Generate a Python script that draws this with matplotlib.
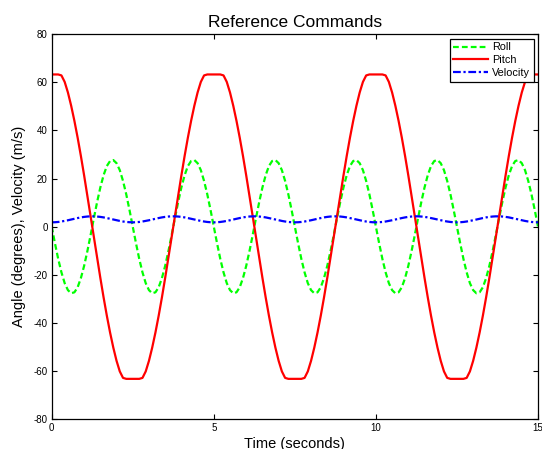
import numpy as np
import matplotlib
matplotlib.use("Agg")
import matplotlib.pyplot as plt

plt.rcParams['font.family'] = ['Liberation Sans', 'DejaVu Sans']
plt.rcParams['axes.unicode_minus'] = False

# Sample times (s), one sample every 0.1 s from 0 to 15
time_s = np.linspace(0.0, 15.0, 151)

# Roll command (degrees)
roll_deg = [
    0.0, -6.9, -13.4, -19.0, -23.5, -26.4, -27.7, -27.3, -25.2, -21.4, -16.3, -10.2, -3.5,
    3.5, 10.2, 16.3, 21.4, 25.2, 27.3, 27.7, 26.4, 23.5, 19.0, 13.4, 6.9,
    0.0, -6.9, -13.4, -19.0, -23.5, -26.4, -27.7, -27.3, -25.2, -21.4, -16.3, -10.2, -3.5,
    3.5, 10.2, 16.3, 21.4, 25.2, 27.3, 27.7, 26.4, 23.5, 19.0, 13.4, 6.9,
    0.0, -6.9, -13.4, -19.0, -23.5, -26.4, -27.7, -27.3, -25.2, -21.4, -16.3, -10.2, -3.5,
    3.5, 10.2, 16.3, 21.4, 25.2, 27.3, 27.7, 26.4, 23.5, 19.0, 13.4, 6.9,
    0.0, -6.9, -13.4, -19.0, -23.5, -26.4, -27.7, -27.3, -25.2, -21.4, -16.3, -10.2, -3.5,
    3.5, 10.2, 16.3, 21.4, 25.2, 27.3, 27.7, 26.4, 23.5, 19.0, 13.4, 6.9,
    0.0, -6.9, -13.4, -19.0, -23.5, -26.4, -27.7, -27.3, -25.2, -21.4, -16.3, -10.2, -3.5,
    3.5, 10.2, 16.3, 21.4, 25.2, 27.3, 27.7, 26.4, 23.5, 19.0, 13.4, 6.9,
    0.0, -6.9, -13.4, -19.0, -23.5, -26.4, -27.7, -27.3, -25.2, -21.4, -16.3, -10.2, -3.5,
    3.5, 10.2, 16.3, 21.4, 25.2, 27.3, 27.7, 26.4, 23.5, 19.0, 13.4, 6.9,
    0.0,
]

# Pitch command (degrees)
pitch_deg = [
    63.3, 63.3, 63.3, 62.9, 60.2, 55.8, 50.3, 44.0, 37.0, 29.4, 21.3, 12.9, 4.3,
    -4.3, -12.9, -21.3, -29.4, -37.0, -44.0, -50.3, -55.8, -60.2, -62.9, -63.3, -63.3,
    -63.3, -63.3, -63.3, -62.9, -60.2, -55.8, -50.3, -44.0, -37.0, -29.4, -21.3, -12.9, -4.3,
    4.3, 12.9, 21.3, 29.4, 37.0, 44.0, 50.3, 55.8, 60.2, 62.9, 63.3, 63.3,
    63.3, 63.3, 63.3, 62.9, 60.2, 55.8, 50.3, 44.0, 37.0, 29.4, 21.3, 12.9, 4.3,
    -4.3, -12.9, -21.3, -29.4, -37.0, -44.0, -50.3, -55.8, -60.2, -62.9, -63.3, -63.3,
    -63.3, -63.3, -63.3, -62.9, -60.2, -55.8, -50.3, -44.0, -37.0, -29.4, -21.3, -12.9, -4.3,
    4.3, 12.9, 21.3, 29.4, 37.0, 44.0, 50.3, 55.8, 60.2, 62.9, 63.3, 63.3,
    63.3, 63.3, 63.3, 62.9, 60.2, 55.8, 50.3, 44.0, 37.0, 29.4, 21.3, 12.9, 4.3,
    -4.3, -12.9, -21.3, -29.4, -37.0, -44.0, -50.3, -55.8, -60.2, -62.9, -63.3, -63.3,
    -63.3, -63.3, -63.3, -62.9, -60.2, -55.8, -50.3, -44.0, -37.0, -29.4, -21.3, -12.9, -4.3,
    4.3, 12.9, 21.3, 29.4, 37.0, 44.0, 50.3, 55.8, 60.2, 62.9, 63.3, 63.3,
    63.3,
]

# Velocity command (m/s)
velocity_ms = [
    1.80, 1.84, 1.95, 2.14, 2.38, 2.66, 2.97, 3.28, 3.58, 3.85, 4.06, 4.21, 4.29,
    4.29, 4.21, 4.06, 3.85, 3.58, 3.28, 2.97, 2.66, 2.38, 2.14, 1.95, 1.84,
    1.80, 1.84, 1.95, 2.14, 2.38, 2.66, 2.97, 3.28, 3.58, 3.85, 4.06, 4.21, 4.29,
    4.29, 4.21, 4.06, 3.85, 3.58, 3.28, 2.97, 2.66, 2.38, 2.14, 1.95, 1.84,
    1.80, 1.84, 1.95, 2.14, 2.38, 2.66, 2.97, 3.28, 3.58, 3.85, 4.06, 4.21, 4.29,
    4.29, 4.21, 4.06, 3.85, 3.58, 3.28, 2.97, 2.66, 2.38, 2.14, 1.95, 1.84,
    1.80, 1.84, 1.95, 2.14, 2.38, 2.66, 2.97, 3.28, 3.58, 3.85, 4.06, 4.21, 4.29,
    4.29, 4.21, 4.06, 3.85, 3.58, 3.28, 2.97, 2.66, 2.38, 2.14, 1.95, 1.84,
    1.80, 1.84, 1.95, 2.14, 2.38, 2.66, 2.97, 3.28, 3.58, 3.85, 4.06, 4.21, 4.29,
    4.29, 4.21, 4.06, 3.85, 3.58, 3.28, 2.97, 2.66, 2.38, 2.14, 1.95, 1.84,
    1.80, 1.84, 1.95, 2.14, 2.38, 2.66, 2.97, 3.28, 3.58, 3.85, 4.06, 4.21, 4.29,
    4.29, 4.21, 4.06, 3.85, 3.58, 3.28, 2.97, 2.66, 2.38, 2.14, 1.95, 1.84,
    1.80,
]

series_labels = ["Roll", "Pitch", "Velocity"]
x_ticks = [0, 5, 10, 15]
y_ticks = [-80, -60, -40, -20, 0, 20, 40, 60, 80]

fig = plt.figure(figsize=(5.42, 4.49), dpi=100)
ax = fig.add_axes([0.0954, 0.0668, 0.8972, 0.8568])

ax.plot(time_s, roll_deg, color=(0, 1, 0), lw=1.6, dashes=(2.6, 1.4),
        label=series_labels[0])
ax.plot(time_s, pitch_deg, color=(1, 0, 0), lw=1.6, label=series_labels[1])
ax.plot(time_s, velocity_ms, color=(0, 0, 1), lw=1.6,
        dashes=(3.5, 1.2, 1.0, 1.2), label=series_labels[2])

ax.set_xlim(0, 15)
ax.set_ylim(-80, 80)
ax.set_xticks(x_ticks)
ax.set_yticks(y_ticks)
ax.tick_params(direction='in', length=3.6, width=0.8, labelsize=7,
               top=True, right=True, pad=3)
for sp in ax.spines.values():
    sp.set_linewidth(0.9)

ax.set_title("Reference Commands", fontsize=12.5, pad=5)
ax.set_xlabel("Time (seconds)", fontsize=10.5, labelpad=3)
ax.set_ylabel("Angle (degrees), Velocity (m/s)", fontsize=10.5, labelpad=5)

leg = ax.legend(loc='upper right', fontsize=7.8, handlelength=3.2,
                handletextpad=0.35, labelspacing=0.25, borderpad=0.35,
                borderaxespad=0.4, fancybox=False, framealpha=1,
                edgecolor='black')
leg.get_frame().set_linewidth(0.9)

fig.savefig("out.png", dpi=100)
